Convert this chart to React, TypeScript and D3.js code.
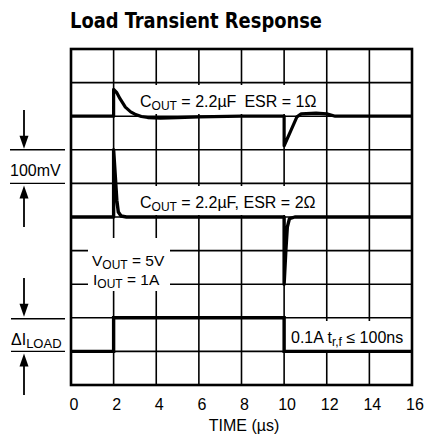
import React from "react";
import * as d3 from "d3";

const timeTicks: number[] = [0, 2, 4, 6, 8, 10, 12, 14, 16];
const gridRows: number[] = [0, 1, 2, 3, 4, 5, 6, 7, 8, 9, 10];

// time (µs), vertical position (divisions from bottom)
const esr1Trace: [number, number][] = [
  [0, 8], [2, 8], [2, 8.8], [2.15, 8.7], [2.3, 8.52], [2.55, 8.27], [2.8, 8.13],
  [3.0, 8.06], [3.3, 7.99], [3.6, 7.96], [4.2, 7.94], [5, 7.96], [6, 7.98],
  [8, 8.0], [10, 8.0], [10, 7.12], [10.3, 7.55], [10.6, 7.98], [10.8, 8.07],
  [11.5, 8.09], [12, 8.07], [12.4, 8.0], [16, 8.0],
];
const esr2Trace: [number, number][] = [
  [0, 5], [2, 5], [2, 7.0], [2.08, 6.2], [2.15, 5.5], [2.22, 5.15], [2.35, 5.03],
  [2.6, 5.0], [10, 5.0], [10, 3.0], [10.08, 4.0], [10.15, 4.7], [10.25, 4.95],
  [10.5, 5.0], [16, 5.0],
];
const loadTrace: [number, number][] = [
  [0, 1], [2, 1], [2, 2], [10, 2], [10, 1], [16, 1],
];

const FONT = "'Liberation Sans', Arial, Helvetica, sans-serif";

function Arrow({ x, y1, y2 }: { x: number; y1: number; y2: number }) {
  const dir = y2 > y1 ? 1 : -1;
  const hl = 13;
  const hw = 4.5;
  return (
    <g>
      <line x1={x} y1={y1} x2={x} y2={y2 - dir * hl + dir * 2} stroke="#000" strokeWidth={1.8} />
      <path d={`M${x},${y2} L${x - hw},${y2 - dir * hl} L${x + hw},${y2 - dir * hl} Z`} fill="#000" />
    </g>
  );
}

export default function App() {
  const W = 425;
  const H = 437;
  const x = d3.scaleLinear().domain([0, 16]).range([71, 412]);
  const y = d3.scaleLinear().domain([0, 10]).range([385, 49]);
  const line = d3
    .line<[number, number]>()
    .x((d) => x(d[0]))
    .y((d) => y(d[1]))
    .curve(d3.curveLinear);

  const sub = { fontSize: 12 } as React.CSSProperties;

  return (
    <svg
      width={W}
      height={H}
      viewBox={`0 0 ${W} ${H}`}
      style={{ position: "absolute", left: 0, top: 0, background: "#fff" }}
      fontFamily={FONT}
    >
      <rect x={0} y={0} width={W} height={H} fill="#fff" />
      {/* title */}
      <text
        x={70}
        y={28}
        fontSize={21}
        fontWeight="bold"
        fontFamily="'Liberation Sans Narrow', 'DejaVu Sans Condensed', 'Arial Narrow', sans-serif"
        textLength={252}
        lengthAdjust="spacingAndGlyphs"
      >
        Load Transient Response
      </text>

      {/* grid */}
      {timeTicks.slice(1, -1).map((t) => (
        <line key={"v" + t} x1={x(t)} x2={x(t)} y1={y(10)} y2={y(0)} stroke="#000" strokeWidth={1.6} />
      ))}
      {gridRows.slice(1, -1).map((r) => (
        <line key={"h" + r} x1={x(0)} x2={x(16)} y1={y(r)} y2={y(r)} stroke="#000" strokeWidth={1.6} />
      ))}

      {/* label backgrounds */}
      <rect x={135} y={85} width={189} height={29} fill="#fff" />
      <rect x={135} y={186} width={189} height={29} fill="#fff" />
      <rect x={88} y={238} width={82} height={53} fill="#fff" />
      <rect x={288} y={321} width={122} height={29} fill="#fff" />

      {/* border */}
      <rect x={x(0)} y={y(10)} width={x(16) - x(0)} height={y(0) - y(10)} fill="none" stroke="#000" strokeWidth={2.6} />

      {/* traces */}
      <path d={line(esr1Trace) || ""} fill="none" stroke="#000" strokeWidth={3.2} strokeLinejoin="round" />
      <path d={line(esr2Trace) || ""} fill="none" stroke="#000" strokeWidth={3.4} strokeLinejoin="round" />
      <path d={line(loadTrace) || ""} fill="none" stroke="#000" strokeWidth={3.4} strokeLinejoin="miter" />

      {/* trace labels */}
      <text x={140} y={107} fontSize={16}>
        C<tspan dy={3} style={sub}>OUT</tspan>
        <tspan dy={-3}> = 2.2µF</tspan>
        <tspan dx={8}>ESR = 1Ω</tspan>
      </text>
      <text x={140} y={208} fontSize={16}>
        C<tspan dy={3} style={sub}>OUT</tspan>
        <tspan dy={-3}> = 2.2µF, ESR = 2Ω</tspan>
      </text>
      <text x={92} y={266} fontSize={15.5}>
        V<tspan dy={3} style={sub}>OUT</tspan>
        <tspan dy={-3}> = 5V</tspan>
      </text>
      <text x={93} y={285} fontSize={15.5}>
        I<tspan dy={3} style={sub}>OUT</tspan>
        <tspan dy={-3}> = 1A</tspan>
      </text>
      <text x={291} y={343} fontSize={16}>
        0.1A t<tspan dy={3} style={sub}>r,f</tspan>
        <tspan dy={-3}> ≤ 100ns</tspan>
      </text>

      {/* 100mV scale marker */}
      <line x1={10} x2={65} y1={y(7)} y2={y(7)} stroke="#000" strokeWidth={1.4} />
      <line x1={10} x2={65} y1={y(6)} y2={y(6)} stroke="#000" strokeWidth={1.4} />
      <Arrow x={24} y1={110} y2={y(7) - 1} />
      <Arrow x={24} y1={227} y2={y(6) + 2} />
      <text x={10} y={176} fontSize={16}>100mV</text>

      {/* ΔI marker */}
      <line x1={11} x2={65} y1={y(2) + 1} y2={y(2) + 1} stroke="#000" strokeWidth={1.4} />
      <line x1={11} x2={65} y1={y(1)} y2={y(1)} stroke="#000" strokeWidth={1.4} />
      <Arrow x={24} y1={278} y2={y(2) - 1} />
      <Arrow x={24} y1={395} y2={y(1) + 2} />
      <text x={11} y={345} fontSize={16}>
        ΔI<tspan dy={3} style={{ fontSize: 13 }}>LOAD</tspan>
      </text>

      {/* x axis tick labels */}
      {timeTicks.map((t) => (
        <text key={"t" + t} x={x(t) + 3} y={410} fontSize={16} textAnchor="middle">
          {t}
        </text>
      ))}
      <text x={244} y={431} fontSize={16} textAnchor="middle">
        TIME (µs)
      </text>
    </svg>
  );
}
